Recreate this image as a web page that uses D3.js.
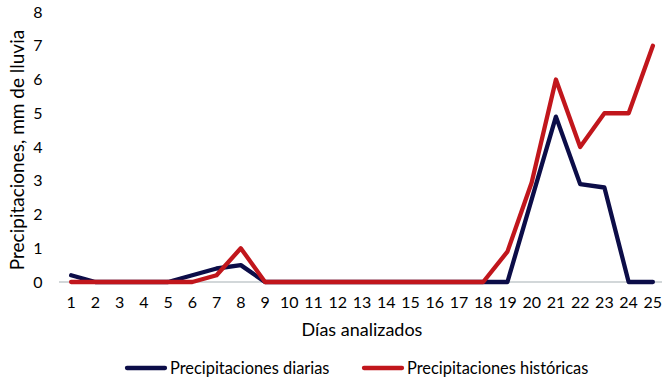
<!DOCTYPE html>
<html>
<head>
<meta charset="utf-8">
<script src="https://cdn.jsdelivr.net/npm/d3@7"></script>
<style>
  body { margin: 0; background: #fff; }
  svg text { font-family: Lato, "Open Sans", sans-serif; fill: #000; }
</style>
</head>
<body>
<svg id="chart" width="662" height="381"></svg>
<script>
// Rainfall per analysed day (mm)
const days = d3.range(1, 26).map(String);
const diarias = [0.2, 0, 0, 0, 0, 0.2, 0.4, 0.5, 0, 0, 0, 0, 0, 0, 0, 0, 0, 0, 0, 2.45, 4.9, 2.9, 2.8, 0, 0];
const historicas = [0, 0, 0, 0, 0, 0, 0.2, 1.0, 0, 0, 0, 0, 0, 0, 0, 0, 0, 0, 0.9, 2.95, 6, 4, 5, 5, 7];
const yTicks = [0, 1, 2, 3, 4, 5, 6, 7, 8];
const seriesNames = ["Precipitaciones diarias", "Precipitaciones históricas"];
const seriesColors = ["#0c0d48", "#c1161c"];

const svg = d3.select("#chart");
const plot = { left: 59, right: 665, top: 12, bottom: 282 };

const x = d3.scalePoint().domain(days).range([plot.left, plot.right]).padding(0.5);
const y = d3.scaleLinear().domain([0, 8]).range([plot.bottom, plot.top]);

// horizontal baseline
svg.append("line")
  .attr("x1", plot.left).attr("x2", plot.right)
  .attr("y1", y(0)).attr("y2", y(0))
  .attr("stroke", "#c3cacc").attr("stroke-width", 1.5);

// y tick labels
svg.append("g").selectAll("text").data(yTicks).join("text")
  .attr("x", 38).attr("y", d => y(d)).attr("dy", "0.35em")
  .attr("text-anchor", "middle").attr("font-size", 16)
  .text(d => d);

// x tick labels
svg.append("g").selectAll("text").data(days).join("text")
  .attr("x", d => x(d)).attr("y", 302).attr("dy", "0.35em")
  .attr("text-anchor", "middle").attr("font-size", 16)
  .text(d => d);

// axis titles
svg.append("text").attr("x", 362).attr("y", 330).attr("dy", "0.35em")
  .attr("text-anchor", "middle").attr("font-size", 18)
  .text("Días analizados");
svg.append("text")
  .attr("transform", `translate(17,150) rotate(-90)`)
  .attr("dy", "0.35em").attr("text-anchor", "middle").attr("font-size", 19)
  .text("Precipitaciones, mm de lluvia");

// series lines
const line = d3.line().x((d, i) => x(days[i])).y(d => y(d));
[diarias, historicas].forEach((vals, k) => {
  svg.append("path").datum(vals)
    .attr("d", line)
    .attr("fill", "none")
    .attr("stroke", seriesColors[k])
    .attr("stroke-width", 4.3)
    .attr("stroke-linejoin", "round")
    .attr("stroke-linecap", "round");
});

// legend
const legendPos = [127, 364];
seriesNames.forEach((name, k) => {
  const g = svg.append("g").attr("transform", `translate(${legendPos[k]},368)`);
  g.append("line").attr("x1", 0).attr("x2", 38).attr("y1", 0).attr("y2", 0)
    .attr("stroke", seriesColors[k]).attr("stroke-width", 4.3).attr("stroke-linecap", "round");
  g.append("text").attr("x", 43).attr("dy", "0.35em").attr("font-size", 16.4).text(name);
});
</script>
</body>
</html>
